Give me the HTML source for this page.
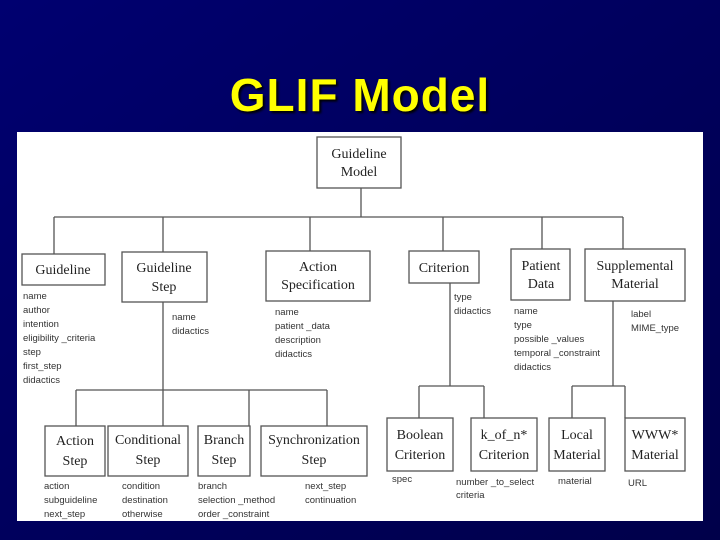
<!DOCTYPE html>
<html><head><meta charset="utf-8"><style>
html,body{margin:0;padding:0;}
body{width:720px;height:540px;background:#00005c;position:relative;overflow:hidden;}
.t{position:absolute;left:0;width:720px;top:68px;text-align:center;font:bold 46px "Liberation Sans",sans-serif;color:#ffff00;text-shadow:2px 2px 2px #000;letter-spacing:1px;}
svg{position:absolute;left:0;top:0;}
.b{font-family:"Liberation Serif",serif;font-size:14px;fill:#222;text-anchor:middle;}
.a{font-family:"Liberation Sans",sans-serif;font-size:9.5px;fill:#333;}
</style></head><body>
<svg width="720" height="540">
<defs><linearGradient id="g" x1="0" y1="0" x2="1" y2="1"><stop offset="0" stop-color="#000070"/><stop offset="1" stop-color="#00004a"/></linearGradient></defs>
<rect width="720" height="540" fill="url(#g)"/>
<rect x="17" y="132" width="686" height="389" fill="#fff"/>
<g stroke="#555" stroke-width="1.3" fill="none">
<rect x="317" y="137" width="84" height="51"/>
<path d="M361 188V217M54 217H623M54 217V254M163 217V252M310 217V251M443 217V251M542 217V249M623 217V249"/>
<rect x="22" y="254" width="83" height="31"/>
<rect x="122" y="252" width="85" height="50"/>
<rect x="266" y="251" width="104" height="50"/>
<rect x="409" y="251" width="70" height="32"/>
<rect x="511" y="249" width="59" height="51"/>
<rect x="585" y="249" width="100" height="52"/>
<path d="M163 302V426M76 390H327M76 390V426M249 390V426M327 390V426"/>
<path d="M450 283V386M419 386H484M419 386V418M484 386V418"/>
<path d="M613 301V386M572 386H625M572 386V418M625 386V418"/>
<rect x="45" y="426" width="60" height="50"/>
<rect x="108" y="426" width="80" height="50"/>
<rect x="198" y="426" width="52" height="50"/>
<rect x="261" y="426" width="106" height="50"/>
<rect x="387" y="418" width="66" height="53"/>
<rect x="471" y="418" width="66" height="53"/>
<rect x="549" y="418" width="56" height="53"/>
<rect x="625" y="418" width="60" height="53"/>
</g>
<text class="b" x="359" y="158">Guideline</text><text class="b" x="359" y="176">Model</text>
<text class="b" x="63" y="274">Guideline</text>
<text class="b" x="164" y="272">Guideline</text><text class="b" x="164" y="291">Step</text>
<text class="b" x="318" y="271">Action</text><text class="b" x="318" y="289">Specification</text>
<text class="b" x="444" y="272">Criterion</text>
<text class="b" x="541" y="270">Patient</text><text class="b" x="541" y="288">Data</text>
<text class="b" x="635" y="270">Supplemental</text><text class="b" x="635" y="288">Material</text>
<text class="b" x="75" y="445">Action</text><text class="b" x="75" y="465">Step</text>
<text class="b" x="148" y="444">Conditional</text><text class="b" x="148" y="464">Step</text>
<text class="b" x="224" y="444">Branch</text><text class="b" x="224" y="464">Step</text>
<text class="b" x="314" y="444">Synchronization</text><text class="b" x="314" y="464">Step</text>
<text class="b" x="420" y="439">Boolean</text><text class="b" x="420" y="459">Criterion</text>
<text class="b" x="504" y="439">k_of_n*</text><text class="b" x="504" y="459">Criterion</text>
<text class="b" x="577" y="439">Local</text><text class="b" x="577" y="459">Material</text>
<text class="b" x="655" y="439">WWW*</text><text class="b" x="655" y="459">Material</text>
<g class="a">
<text x="23" y="299">name</text><text x="23" y="313">author</text><text x="23" y="327">intention</text><text x="23" y="341">eligibility _criteria</text><text x="23" y="355">step</text><text x="23" y="369">first_step</text><text x="23" y="383">didactics</text>
<text x="172" y="320">name</text><text x="172" y="334">didactics</text>
<text x="275" y="315">name</text><text x="275" y="329">patient _data</text><text x="275" y="343">description</text><text x="275" y="357">didactics</text>
<text x="454" y="300">type</text><text x="454" y="314">didactics</text>
<text x="514" y="314">name</text><text x="514" y="328">type</text><text x="514" y="342">possible _values</text><text x="514" y="356">temporal _constraint</text><text x="514" y="370">didactics</text>
<text x="631" y="317">label</text><text x="631" y="331">MIME_type</text>
<text x="44" y="489">action</text><text x="44" y="503">subguideline</text><text x="44" y="517">next_step</text>
<text x="122" y="489">condition</text><text x="122" y="503">destination</text><text x="122" y="517">otherwise</text>
<text x="198" y="489">branch</text><text x="198" y="503">selection _method</text><text x="198" y="517">order _constraint</text>
<text x="305" y="489">next_step</text><text x="305" y="503">continuation</text>
<text x="392" y="482">spec</text>
<text x="456" y="485">number _to_select</text><text x="456" y="498">criteria</text>
<text x="558" y="484">material</text>
<text x="628" y="486">URL</text>
</g>
</svg>
<div class="t">GLIF Model</div>
</body></html>
